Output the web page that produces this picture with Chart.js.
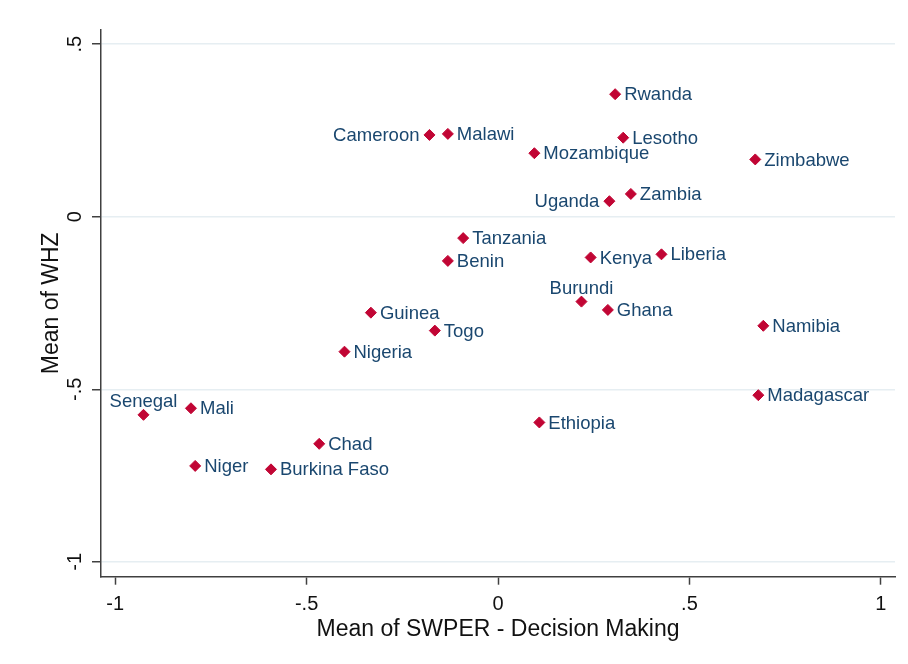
<!DOCTYPE html>
<html>
<head>
<meta charset="utf-8">
<script src="https://cdn.jsdelivr.net/npm/chart.js@4/dist/chart.umd.min.js"></script>
<style>
  body { margin: 0; background: #fff; }
  #wrap { width: 908px; height: 664px; }
</style>
</head>
<body>
<div id="wrap"><canvas id="myChart" width="908" height="664"></canvas></div>
<script>
const countries = ['Rwanda', 'Cameroon', 'Malawi', 'Lesotho', 'Mozambique', 'Zimbabwe', 'Zambia', 'Uganda',
  'Tanzania', 'Kenya', 'Liberia', 'Benin', 'Burundi', 'Ghana', 'Guinea', 'Namibia', 'Togo', 'Nigeria',
  'Madagascar', 'Senegal', 'Mali', 'Ethiopia', 'Chad', 'Niger', 'Burkina Faso'];
const swper = [0.306, -0.179, -0.131, 0.327, 0.095, 0.672, 0.347, 0.291,
  -0.091, 0.242, 0.427, -0.131, 0.218, 0.287, -0.332, 0.693, -0.165, -0.401,
  0.680, -0.926, -0.802, 0.108, -0.467, -0.791, -0.593];
const whz = [0.355, 0.237, 0.240, 0.229, 0.184, 0.166, 0.066, 0.045,
  -0.062, -0.118, -0.109, -0.128, -0.246, -0.270, -0.278, -0.316, -0.330, -0.391,
  -0.517, -0.574, -0.555, -0.596, -0.658, -0.722, -0.732];
// where the label sits: r = right, l = left, t = above
const labelPos = ['r', 'l', 'r', 'r', 'r', 'r', 'r', 'l',
  'r', 'r', 'r', 'r', 't', 'r', 'r', 'r', 'r', 'r',
  'r', 't', 'r', 'r', 'r', 'r', 'r'];

const xTicks = [-1, -0.5, 0, 0.5, 1];
const xTickLabels = ['-1', '-.5', '0', '.5', '1'];
const yTicks = [-1, -0.5, 0, 0.5];
const yTickLabels = ['-1', '-.5', '0', '.5'];

const FONT = "'Liberation Sans', Arial, sans-serif";
const AXIS = '#404040';

// country names next to markers
const pointLabels = {
  id: 'pointLabels',
  afterDatasetsDraw(chart) {
    const ctx = chart.ctx;
    const pts = chart.getDatasetMeta(0).data;
    ctx.save();
    ctx.font = '18.5px ' + FONT;
    ctx.fillStyle = '#1a476f';
    pts.forEach((p, i) => {
      const pos = labelPos[i];
      if (pos === 'r') {
        ctx.textAlign = 'left'; ctx.textBaseline = 'middle';
        ctx.fillText(countries[i], p.x + 9, p.y + 1);
      } else if (pos === 'l') {
        ctx.textAlign = 'right'; ctx.textBaseline = 'middle';
        ctx.fillText(countries[i], p.x - 10, p.y + 1);
      } else {
        ctx.textAlign = 'center'; ctx.textBaseline = 'alphabetic';
        ctx.fillText(countries[i], p.x, p.y - 8);
      }
    });
    ctx.restore();
  }
};

// stata style vertical y tick labels
const yLabels = {
  id: 'yLabels',
  afterDraw(chart) {
    const ctx = chart.ctx;
    const y = chart.scales.y;
    ctx.save();
    ctx.font = '20px ' + FONT;
    ctx.fillStyle = '#111';
    ctx.textAlign = 'center';
    ctx.textBaseline = 'middle';
    yTicks.forEach((v, i) => {
      ctx.save();
      ctx.translate(75, y.getPixelForValue(v));
      ctx.rotate(-Math.PI / 2);
      ctx.fillText(yTickLabels[i], 0, 0);
      ctx.restore();
    });
    ctx.restore();
  }
};

const ctx = document.getElementById('myChart').getContext('2d');
const chart = new Chart(ctx, {
  type: 'scatter',
  data: {
    datasets: [{
      data: swper.map((x, i) => ({ x: x, y: whz[i] })),
      pointStyle: 'rectRot',
      pointRadius: 5.5,
      borderWidth: 1,
      backgroundColor: '#c10534',
      borderColor: '#c10534'
    }]
  },
  options: {
    responsive: false,
    animation: false,
    layout: { padding: { top: 30, right: 13, bottom: 0, left: 0 } },
    plugins: {
      legend: { display: false },
      tooltip: { enabled: false }
    },
    scales: {
      x: {
        type: 'linear',
        min: -1.037,
        max: 1.037,
        afterBuildTicks: s => { s.ticks = xTicks.map(v => ({ value: v })); },
        afterFit: s => { s.height = 87.3; },
        ticks: {
          padding: 8,
          color: '#111',
          font: { size: 20, family: FONT },
          callback: v => xTickLabels[xTicks.indexOf(v)]
        },
        grid: { drawOnChartArea: false, tickLength: 8, tickColor: AXIS, tickWidth: 1.5 },
        border: { color: AXIS, width: 1.5 },
        title: {
          display: true,
          text: 'Mean of SWPER - Decision Making',
          color: '#111',
          font: { size: 23, family: FONT },
          padding: { top: 0, bottom: 21 }
        }
      },
      y: {
        type: 'linear',
        min: -1.043,
        max: 0.541,
        afterBuildTicks: s => { s.ticks = yTicks.map(v => ({ value: v })); },
        afterFit: s => { s.width = 101; },
        ticks: { display: false },
        grid: { color: '#e6eef2', lineWidth: 1.5, tickLength: 9, tickColor: AXIS, tickWidth: 1.5 },
        border: { color: AXIS, width: 1.5 },
        title: {
          display: true,
          text: 'Mean of WHZ',
          color: '#111',
          font: { size: 23, family: FONT },
          padding: { top: 38, bottom: 0 }
        }
      }
    }
  },
  plugins: [pointLabels, yLabels]
});
</script>
</body>
</html>
